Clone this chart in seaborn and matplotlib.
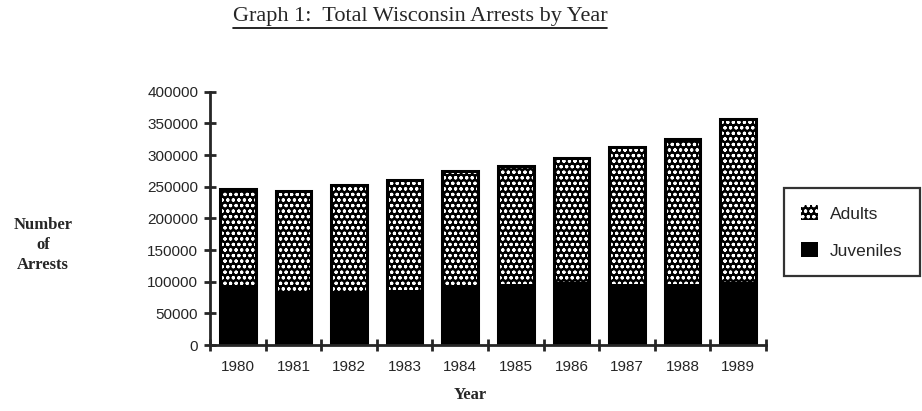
import seaborn as sns
import matplotlib.pyplot as plt
import matplotlib.patches as mpatches
from matplotlib.lines import Line2D
import pandas as pd

# values
years = ["1980", "1981", "1982", "1983", "1984", "1985", "1986", "1987", "1988", "1989"]
totals = [247000, 243000, 253000, 260000, 274000, 282000, 296000, 313000, 326000, 357000]
juveniles = [94000, 86000, 86000, 87000, 94000, 97000, 99000, 96000, 96000, 99000]
adults = [t - j for t, j in zip(totals, juveniles)]
y_ticks = [0, 50000, 100000, 150000, 200000, 250000, 300000, 350000, 400000]

df = pd.DataFrame({"Year": years, "Adults": adults, "Juveniles": juveniles})
df["Total"] = df["Adults"] + df["Juveniles"]

sns.set_style("ticks")
plt.rcParams["font.family"] = ["Liberation Sans", "DejaVu Sans"]
plt.rcParams["hatch.linewidth"] = 0.8

DOTS = "ooo..."

fig = plt.figure(figsize=(9.22, 4.11), dpi=100)
ax = fig.add_axes([210 / 922, 1 - 345 / 411, 556 / 922, (345 - 91.7) / 411])

# stacked bars: total (dotted adults) behind, juveniles in front
sns.barplot(data=df, x="Year", y="Total", color="black", saturation=1,
            width=0.64, ax=ax)
for p in ax.patches:
    p.set_edgecolor("white")
    p.set_hatch(DOTS)
    p.set_linewidth(0)
n_adult = len(ax.patches)
sns.barplot(data=df, x="Year", y="Juveniles", color="black", saturation=1,
            width=0.64, ax=ax)
for p in ax.patches[n_adult:]:
    p.set_edgecolor("black")
    p.set_linewidth(0)
# black outline round each whole bar
sns.barplot(data=df, x="Year", y="Total", fill=False, edgecolor="black",
            linewidth=2.2, width=0.64, ax=ax)

ax.set_xlim(-0.5, len(years) - 0.5)
ax.set_ylim(0, 400000)
ax.set_yticks(y_ticks)
ax.set_yticklabels([str(v) for v in y_ticks])
ax.set_xticks(range(len(years)))
ax.set_xticklabels(years)
ax.set_xticks([i + 0.5 for i in range(-1, len(years))], minor=True)

sns.despine(ax=ax)
for side in ["left", "bottom"]:
    ax.spines[side].set_linewidth(2)
ax.tick_params(axis="y", direction="inout", length=9, width=2, labelsize=11, pad=4)
ax.tick_params(axis="x", which="major", length=0, labelsize=11, pad=11)
ax.tick_params(axis="x", which="minor", direction="inout", length=9, width=2)
ax.set_xlabel("")
ax.set_ylabel("")

serif = ["Liberation Serif", "DejaVu Serif"]
fig.text(470 / 922, 1 - 395 / 411, "Year", ha="center", va="center",
         family=serif, fontweight="bold", fontsize=12)
fig.text(43 / 922, 1 - 245 / 411, "Number\nof\nArrests", ha="center", va="center",
         family=serif, fontweight="bold", fontsize=12, linespacing=1.3)

title = fig.text(420 / 922, 1 - 17 / 411, "Graph 1:  Total Wisconsin Arrests by Year",
                 ha="center", va="center", family=serif, fontsize=16)
fig.canvas.draw()
bb = title.get_window_extent().transformed(fig.transFigure.inverted())
fig.add_artist(Line2D([bb.x0, bb.x1], [bb.y0 - 0.004, bb.y0 - 0.004],
                      color="black", lw=1.2, transform=fig.transFigure))

handles = [
    mpatches.Patch(facecolor="black", edgecolor="white", hatch=DOTS, lw=0),
    mpatches.Patch(facecolor="black", edgecolor="black", lw=0),
]
leg = fig.legend(handles, ["Adults", "Juveniles"], loc="center",
                 bbox_to_anchor=(852 / 922, 1 - 232 / 411), fontsize=12.5,
                 frameon=True, fancybox=False, handlelength=0.95, handleheight=0.95,
                 handletextpad=0.7, labelspacing=1.2, borderpad=1.0,
                 borderaxespad=0)
leg.get_frame().set_edgecolor("black")
leg.get_frame().set_linewidth(1.6)

fig.savefig("out.png", dpi=100)
